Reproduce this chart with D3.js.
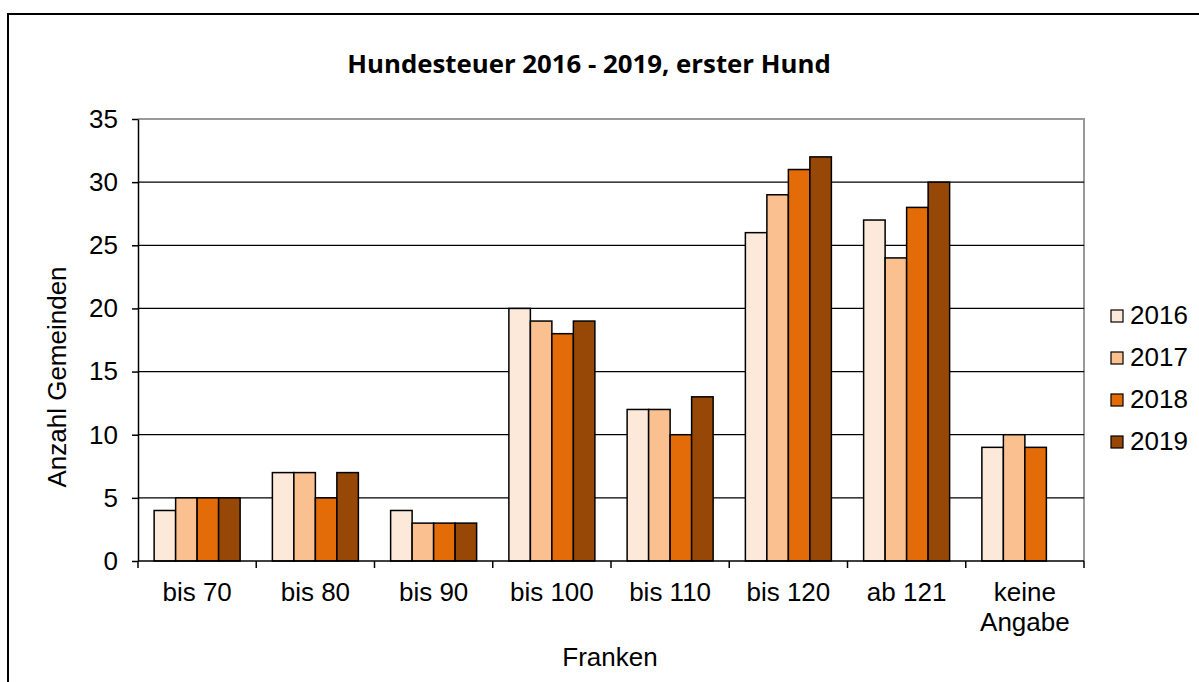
<!DOCTYPE html>
<html>
<head>
<meta charset="utf-8">
<script src="https://cdn.jsdelivr.net/npm/d3@7/dist/d3.min.js"></script>
<style>
  html, body { margin: 0; padding: 0; background: #fff; }
  svg { display: block; }
</style>
</head>
<body>
<svg id="chart" width="1199" height="682"></svg>
<script>
const categories = ["bis 70", "bis 80", "bis 90", "bis 100", "bis 110", "bis 120", "ab 121", "keine Angabe"];
const years = ["2016", "2017", "2018", "2019"];
const values2016 = [4, 7, 4, 20, 12, 26, 27, 9];
const values2017 = [5, 7, 3, 19, 12, 29, 24, 10];
const values2018 = [5, 5, 3, 18, 10, 31, 28, 9];
const values2019 = [5, 7, 3, 19, 13, 32, 30, null];
const yTicks = [0, 5, 10, 15, 20, 25, 30, 35];
const colors = ["#FDE9D9", "#FAC090", "#E36C09", "#974806"];
const titleText = "Hundesteuer 2016 - 2019, erster Hund";
const xTitle = "Franken";
const yTitle = "Anzahl Gemeinden";

const series = [values2016, values2017, values2018, values2019];
const FONT = "Liberation Sans, Arial, sans-serif";
const FS = 26;

const svg = d3.select("#chart");
const plot = { left: 138, right: 1084, top: 119, bottom: 561 };

// outer frame
svg.append("rect").attr("x", 8).attr("y", 14).attr("width", 1300).attr("height", 800)
  .attr("fill", "none").attr("stroke", "#000").attr("stroke-width", 2);

const x = d3.scaleBand().domain(categories).range([plot.left, plot.right]).paddingInner(0).paddingOuter(0);
const xi = d3.scaleBand().domain(years).range([0, x.bandwidth()]).paddingInner(0).paddingOuter(0.75);
const y = d3.scaleLinear().domain([0, 35]).range([plot.bottom, plot.top]);

// plot area border (grey top/right)
svg.append("path")
  .attr("d", `M${plot.left},${plot.top}H${plot.right}V${plot.bottom}`)
  .attr("fill", "none").attr("stroke", "#999").attr("stroke-width", 2);

// gridlines
svg.append("g").selectAll("line").data(yTicks.filter(t => t > 0 && t < 35)).join("line")
  .attr("x1", plot.left).attr("x2", plot.right)
  .attr("y1", d => y(d)).attr("y2", d => y(d))
  .attr("stroke", "#000").attr("stroke-width", 1.3);

// bars
const groups = svg.append("g").selectAll("g").data(categories).join("g")
  .attr("transform", d => `translate(${x(d)},0)`);
groups.selectAll("rect")
  .data((c, ci) => years.map((yr, si) => ({ yr, si, v: series[si][ci] })).filter(d => d.v != null))
  .join("rect")
  .attr("x", d => xi(d.yr))
  .attr("width", xi.bandwidth())
  .attr("y", d => y(d.v))
  .attr("height", d => y(0) - y(d.v))
  .attr("fill", d => colors[d.si])
  .attr("stroke", "#000").attr("stroke-width", 1.5);

// y axis
const yAxis = d3.axisLeft(y).tickValues(yTicks).tickSize(6).tickSizeOuter(0).tickPadding(14);
const gy = svg.append("g").attr("transform", `translate(${plot.left},0)`).call(yAxis);
gy.select(".domain").attr("stroke", "#000").attr("stroke-width", 1.5);
gy.selectAll(".tick line").attr("stroke", "#000").attr("stroke-width", 1.5);
gy.selectAll(".tick text").attr("font-family", FONT)
  .attr("font-size", FS).attr("fill", "#000");

// x axis: ticks at category boundaries
const gx = svg.append("g").attr("transform", `translate(0,${plot.bottom})`);
gx.append("line").attr("x1", plot.left).attr("x2", plot.right).attr("y1", 0).attr("y2", 0)
  .attr("stroke", "#000").attr("stroke-width", 1.5);
const boundaries = categories.map(c => x(c)).concat([x(categories[categories.length - 1]) + x.bandwidth()]);
gx.selectAll("line.t").data(boundaries).join("line").attr("class", "t")
  .attr("x1", d => d).attr("x2", d => d).attr("y1", 0).attr("y2", 7)
  .attr("stroke", "#000").attr("stroke-width", 1.5);
const lbl = gx.selectAll("text.c").data(categories).join("text").attr("class", "c")
  .attr("x", d => x(d) + x.bandwidth() / 2)
  .attr("y", 40)
  .attr("text-anchor", "middle")
  .attr("font-family", FONT)
  .attr("font-size", FS).attr("fill", "#000");
lbl.each(function (d) {
  const parts = d === "keine Angabe" ? ["keine", "Angabe"] : [d];
  const t = d3.select(this);
  parts.forEach((p, i) => {
    t.append("tspan").attr("x", x(d) + x.bandwidth() / 2).attr("dy", i === 0 ? 0 : 30).text(p);
  });
});

// axis titles
svg.append("text").attr("x", 610).attr("y", 666).attr("text-anchor", "middle")
  .attr("font-family", FONT).attr("font-size", FS).text(xTitle);
svg.append("text").attr("transform", "translate(66,377) rotate(-90)").attr("text-anchor", "middle")
  .attr("font-family", FONT).attr("font-size", FS).text(yTitle);

// title
svg.append("text").attr("x", 589).attr("y", 73).attr("text-anchor", "middle")
  .attr("font-family", "Open Sans, Noto Sans, sans-serif").attr("font-weight", "bold")
  .attr("font-size", 25.8).text(titleText);

// legend
const legend = svg.append("g");
const lg = legend.selectAll("g").data(years).join("g")
  .attr("transform", (d, i) => `translate(1111,${315 + i * 42})`);
lg.append("rect").attr("x", 0).attr("y", -5).attr("width", 12).attr("height", 12)
  .attr("fill", (d, i) => colors[i]).attr("stroke", "#000").attr("stroke-width", 1.2);
lg.append("text").attr("x", 19).attr("y", 0).attr("dy", "0.35em")
  .attr("font-family", FONT).attr("font-size", FS).text(d => d);
</script>
</body>
</html>
